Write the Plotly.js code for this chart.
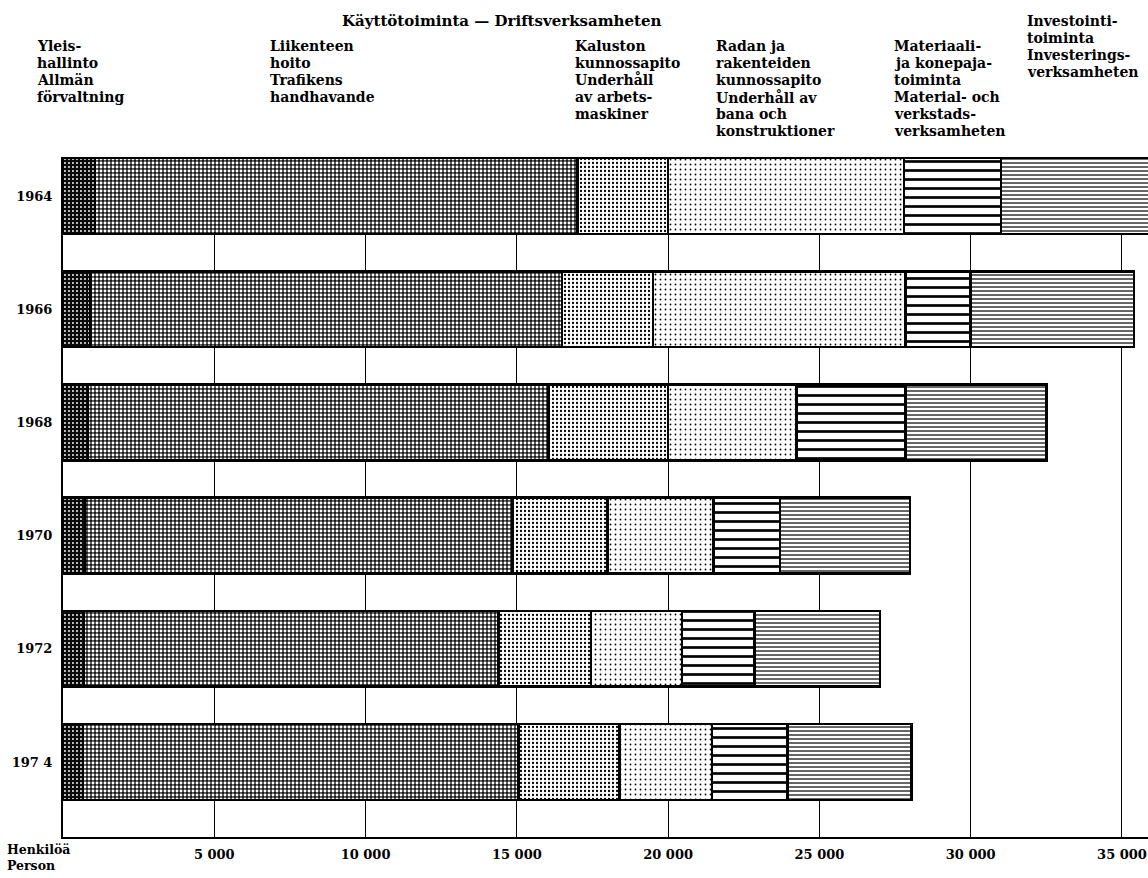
<!DOCTYPE html>
<html><head><meta charset="utf-8">
<script src="https://cdn.plot.ly/plotly-3.0.1.min.js"></script>
<style>html,body{margin:0;padding:0;background:#fff}</style>
</head><body>
<div id="chart" style="width:1148px;height:878px"></div>
<script>
// ---- data ----
const years = ["1964", "1966", "1968", "1970", "1972", "197 4"];
const yleishallinto = [1050, 910, 830, 730, 700, 660];
const liikenteenHoito = [15950, 15590, 15220, 14120, 13700, 14390];
const kalustonKunnossapito = [3000, 3000, 3950, 3150, 3050, 3350];
const radanKunnossapito = [7800, 8350, 4250, 3500, 3000, 3050];
const materiaaliToiminta = [3200, 2150, 3600, 2200, 2400, 2500];
const investointiToiminta = [5300, 5400, 4650, 4300, 4150, 4100];
const xTickValues = [5000, 10000, 15000, 20000, 25000, 30000, 35000];
const xTickLabels = ["5 000", "10 000", "15 000", "20 000", "25 000", "30 000", "35 000"];

const groupTitle = "Käyttötoiminta — Driftsverksamheten";
const headerLines = [
  ["Yleis-", "hallinto", "Allmän", "förvaltning"],
  ["Liikenteen", "hoito", "Trafikens", "handhavande"],
  ["Kaluston", "kunnossapito", "Underhåll", "av arbets-", "maskiner"],
  ["Radan ja", "rakenteiden", "kunnossapito", "Underhåll av", "bana och", "konstruktioner"],
  ["Materiaali-", "ja konepaja-", "toiminta", "Material- och", "verkstads-", "verksamheten"],
  ["Investointi-", "toiminta", "Investerings-", "verksamheten"]
];
const axisUnit = ["Henkilöä", "Person"];

// ---- layout helpers ----
const W = 1148, H = 878;
const L = 63, R = 1148, T = 157, B = 837;
const px = x => (x - L) / (R - L);
const py = y => (B - y) / (B - T);
const yPos = years.map((_, i) => i);

const series = [
  {name: headerLines[0].join(" "), v: yleishallinto,
   pat: {shape: ".", fgcolor: "#ffffff", bgcolor: "#0a0a0a", size: 4, solidity: 0.18}},
  {name: headerLines[1].join(" "), v: liikenteenHoito,
   pat: {shape: ".", fgcolor: "#ffffff", bgcolor: "#1a1a1a", size: 4, solidity: 0.42}},
  {name: headerLines[2].join(" "), v: kalustonKunnossapito,
   pat: {shape: ".", fgcolor: "#000000", bgcolor: "#ffffff", size: 4, solidity: 0.25}},
  {name: headerLines[3].join(" "), v: radanKunnossapito,
   pat: {shape: ".", fgcolor: "#000000", bgcolor: "#ffffff", size: 5, solidity: 0.1}},
  {name: headerLines[4].join(" "), v: materiaaliToiminta,
   pat: {shape: "-", fgcolor: "#000000", bgcolor: "#ffffff", size: 9, solidity: 0.3}},
  {name: headerLines[5].join(" "), v: investointiToiminta,
   pat: {shape: "-", fgcolor: "#000000", bgcolor: "#ffffff", size: 4, solidity: 0.3}}
];

const traces = series.map(s => ({
  type: "bar", orientation: "h", name: s.name,
  x: s.v, y: yPos, width: 0.67,
  marker: {color: "#ffffff", line: {color: "#000000", width: 2.5},
           pattern: Object.assign({fillmode: "replace"}, s.pat)},
  hoverinfo: "x+name"
}));

const FONT = "DejaVu Serif";
const titleFont = {family: FONT, size: 15, color: "#000", weight: "bold"};
const hdrFont = {family: FONT, size: 14, color: "#000", weight: "bold"};
const annotations = [];
annotations.push({text: groupTitle, xref: "paper", yref: "paper", x: px(501), y: py(21),
  xanchor: "center", yanchor: "middle", showarrow: false, font: titleFont});
const colX = [35, 268, 573, 714, 892, 1025];
const colY0 = [46, 46, 46, 46, 46, 21];
headerLines.forEach((lines, c) => {
  lines.forEach((t, k) => {
    annotations.push({text: t, xref: "paper", yref: "paper", x: px(colX[c]), y: py(colY0[c] + 17 * k),
      xanchor: "left", yanchor: "middle", showarrow: false, font: hdrFont});
  });
});
axisUnit.forEach((t, k) => {
  annotations.push({text: t, xref: "paper", yref: "paper", x: px(5), y: py(849 + 16 * k),
    xanchor: "left", yanchor: "middle", showarrow: false,
    font: {family: FONT, size: 12.5, color: "#000", weight: "bold"}});
});

const layout = {
  width: W, height: H,
  margin: {l: L, r: W - R, t: T, b: H - B, pad: 0},
  barmode: "stack", bargap: 0,
  showlegend: false,
  paper_bgcolor: "#ffffff", plot_bgcolor: "#ffffff",
  font: {family: FONT, size: 14, color: "#000"},
  xaxis: {
    range: [0, 35860], tickvals: xTickValues, ticktext: xTickLabels,
    showgrid: true, gridcolor: "#000000", gridwidth: 1,
    zeroline: false, showline: true, linecolor: "#000000", linewidth: 2,
    ticks: "", ticklabelstandoff: 4,
    tickfont: {family: FONT, size: 13, color: "#000", weight: "bold"}
  },
  yaxis: {
    range: [5.663, -0.345], tickvals: yPos, ticktext: years,
    showgrid: false, zeroline: false, showline: true, linecolor: "#000000", linewidth: 2,
    ticks: "", ticklabelstandoff: 6,
    tickfont: {family: FONT, size: 13, color: "#000", weight: "bold"}
  },
  annotations: annotations
};

Plotly.newPlot("chart", traces, layout, {displayModeBar: false, staticPlot: true});
</script>
</body></html>
